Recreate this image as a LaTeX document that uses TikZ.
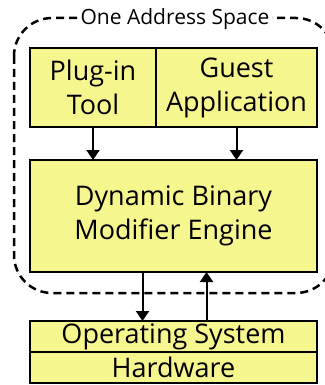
\documentclass[tikz,border=0pt]{standalone}
\usepackage{fontspec}
\setmainfont{Open Sans}
\usetikzlibrary{arrows.meta}
\definecolor{boxyellow}{RGB}{246,246,142}
\begin{document}
\begin{tikzpicture}[y=1pt, x=1pt, yscale=-1, xscale=1, inner sep=0pt, outer sep=0pt,
  layer/.style={draw=black, line width=2pt, fill=boxyellow, align=center,
    font=\fontsize{27}{34}\selectfont},
  flow/.style={line width=2pt, -{Triangle[length=10pt,width=13pt]}},
  space/.style={line width=2.5pt, dash pattern=on 8pt off 5pt, rounded corners=38pt}]
\useasboundingbox (0,0) rectangle (324,385);
\draw[space] (14,18) rectangle (334,293);
\node[fill=white, inner xsep=3pt, inner ysep=1pt, font=\fontsize{21}{24}\selectfont]
  (addr) at (175,19) {One Address Space};
\node[layer, minimum width=126pt, minimum height=79pt] (plugin) at (93,87.5) {Plug-in\\Tool};
\node[layer, minimum width=161pt, minimum height=79pt] (guest) at (236.5,87.5) {Guest\\Application};
\node[layer, minimum width=287pt, minimum height=112pt] (engine) at (173.5,216) {Dynamic Binary\\Modifier Engine};
\node[layer, minimum width=287pt, minimum height=31pt] (os) at (173.5,336.5) {Operating System};
\node[layer, minimum width=287pt, minimum height=31pt] (hw) at (173.5,367.5) {Hardware};
\draw[flow] (plugin.south) -- (plugin.south |- engine.north);
\draw[flow] (guest.south) -- (guest.south |- engine.north);
\draw[flow] ([xshift=-31pt]engine.south) -- ([xshift=-31pt]os.north);
\draw[flow] ([xshift=33pt]os.north) -- ([xshift=33pt]engine.south);
\end{tikzpicture}
\end{document}
